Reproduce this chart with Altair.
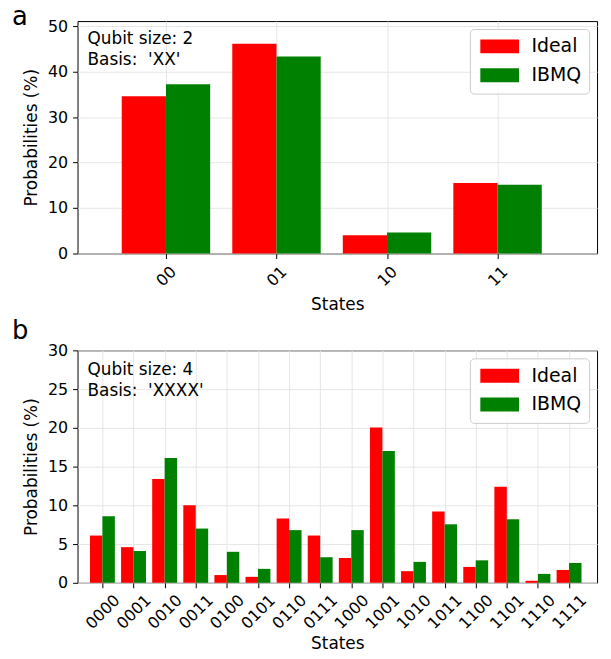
import json
import altair as alt
import pandas as pd

# ---- data -------------------------------------------------------------
series = ["Ideal", "IBMQ"]
colors = ["#ff0000", "#008000"]

states_a = ["00", "01", "10", "11"]
ideal_a = [34.6, 46.1, 4.0, 15.5]
ibmq_a = [37.2, 43.3, 4.6, 15.1]
yticks_a = [0, 10, 20, 30, 40, 50]

states_b = ["0000", "0001", "0010", "0011", "0100", "0101", "0110", "0111",
            "1000", "1001", "1010", "1011", "1100", "1101", "1110", "1111"]
ideal_b = [6.1, 4.6, 13.4, 10.0, 1.0, 0.77, 8.3, 6.1,
           3.2, 20.05, 1.5, 9.2, 2.05, 12.4, 0.26, 1.66]
ibmq_b = [8.6, 4.1, 16.1, 7.0, 4.0, 1.8, 6.8, 3.3,
          6.8, 17.0, 2.7, 7.55, 2.9, 8.2, 1.15, 2.56]
yticks_b = [0, 5, 10, 15, 20, 25, 30]

note_a = "Qubit size: 2\nBasis:\u00a0 'XX'"
note_b = "Qubit size: 4\nBasis:\u00a0 'XXXX'"

BAR_W = 0.4
FONT = "DejaVu Sans"


def long_df(states, ideal, ibmq):
    rows = []
    for i, s in enumerate(states):
        for k, (name, vals) in enumerate(zip(series, [ideal, ibmq])):
            x0 = i - BAR_W + k * BAR_W
            rows.append(dict(idx=i, state=s, series=name, value=vals[i],
                             x0=x0, x1=x0 + BAR_W))
    return pd.DataFrame(rows)


def panel(letter, states, ideal, ibmq, yticks, ymax, label_pad, title_pad,
          note, note_y, letter_y):
    df = long_df(states, ideal, ibmq)
    n = len(states)
    label_expr = f"{json.dumps(states)}[datum.value]"
    x = alt.X("x0:Q",
              scale=alt.Scale(domain=[-0.8, n - 0.1], nice=False, zero=False),
              axis=alt.Axis(title="States", values=list(range(n)), labelExpr=label_expr,
                            labelAngle=-45, labelAlign="center", labelBaseline="middle",
                            labelPadding=label_pad, labelOverlap=False, labelFlush=False,
                            titlePadding=title_pad, grid=True))
    y = alt.Y("value:Q",
              scale=alt.Scale(domain=[0, ymax], nice=False),
              axis=alt.Axis(title="Probabilities (%)", values=yticks, labelPadding=5,
                            titlePadding=7, grid=True))
    color = alt.Color("series:N",
                      scale=alt.Scale(domain=series, range=colors),
                      legend=alt.Legend(title=None, orient="top-right", offset=8,
                                        symbolType="M-1,-1L4.571,-1L4.571,1L-1,1Z",
                                        symbolSize=196, symbolStrokeWidth=0, symbolOpacity=1,
                                        labelFontSize=19, labelFont=FONT, labelColor="black",
                                        labelOffset=35, labelBaseline="middle",
                                        padding=8, rowPadding=9, strokeColor="#cccccc",
                                        cornerRadius=4, fillColor="rgba(255,255,255,0.8)"))
    bars = alt.Chart(df).mark_rect().encode(x=x, x2="x1:Q", y=y, y2=alt.datum(0), color=color)
    txt = alt.Chart(pd.DataFrame({"t": [note]})).mark_text(
        align="left", baseline="alphabetic", fontSize=17, font=FONT,
        lineBreak="\n", lineHeight=21.3, color="black"
    ).encode(text="t:N", x=alt.value(10), y=alt.value(note_y))
    lab = alt.Chart(pd.DataFrame({"t": [letter]})).mark_text(
        align="left", baseline="alphabetic", fontSize=26, font=FONT, color="black"
    ).encode(text="t:N", x=alt.value(-66), y=alt.value(letter_y))
    return alt.layer(bars, txt, lab).properties(width=523, height=234)


pa = panel("a", states_a, ideal_a, ibmq_a, yticks_a, 51.1, 17.7, 8, note_a, 22.7, 3.5)
pb = panel("b", states_b, ideal_b, ibmq_b, yticks_b, 30, 24, 4.5, note_b, 24.8, -11.5)

chart = (
    alt.vconcat(pa, pb, spacing=3.5)
    .resolve_scale(color="independent")
    .properties(padding={"left": 3, "top": -7, "right": 5, "bottom": -2})
    .configure(font=FONT)
    .configure_view(stroke="black", strokeWidth=1)
    .configure_axis(domain=False, tickColor="black", tickSize=5, tickWidth=1,
                    labelColor="black", labelFont=FONT, labelFontSize=16,
                    titleFont=FONT, titleFontSize=17, titleFontWeight="normal",
                    titleColor="black", gridColor="#e6e6e6", gridWidth=1)
)

chart.save("out.html", embed_options={"renderer": "svg", "actions": False})
